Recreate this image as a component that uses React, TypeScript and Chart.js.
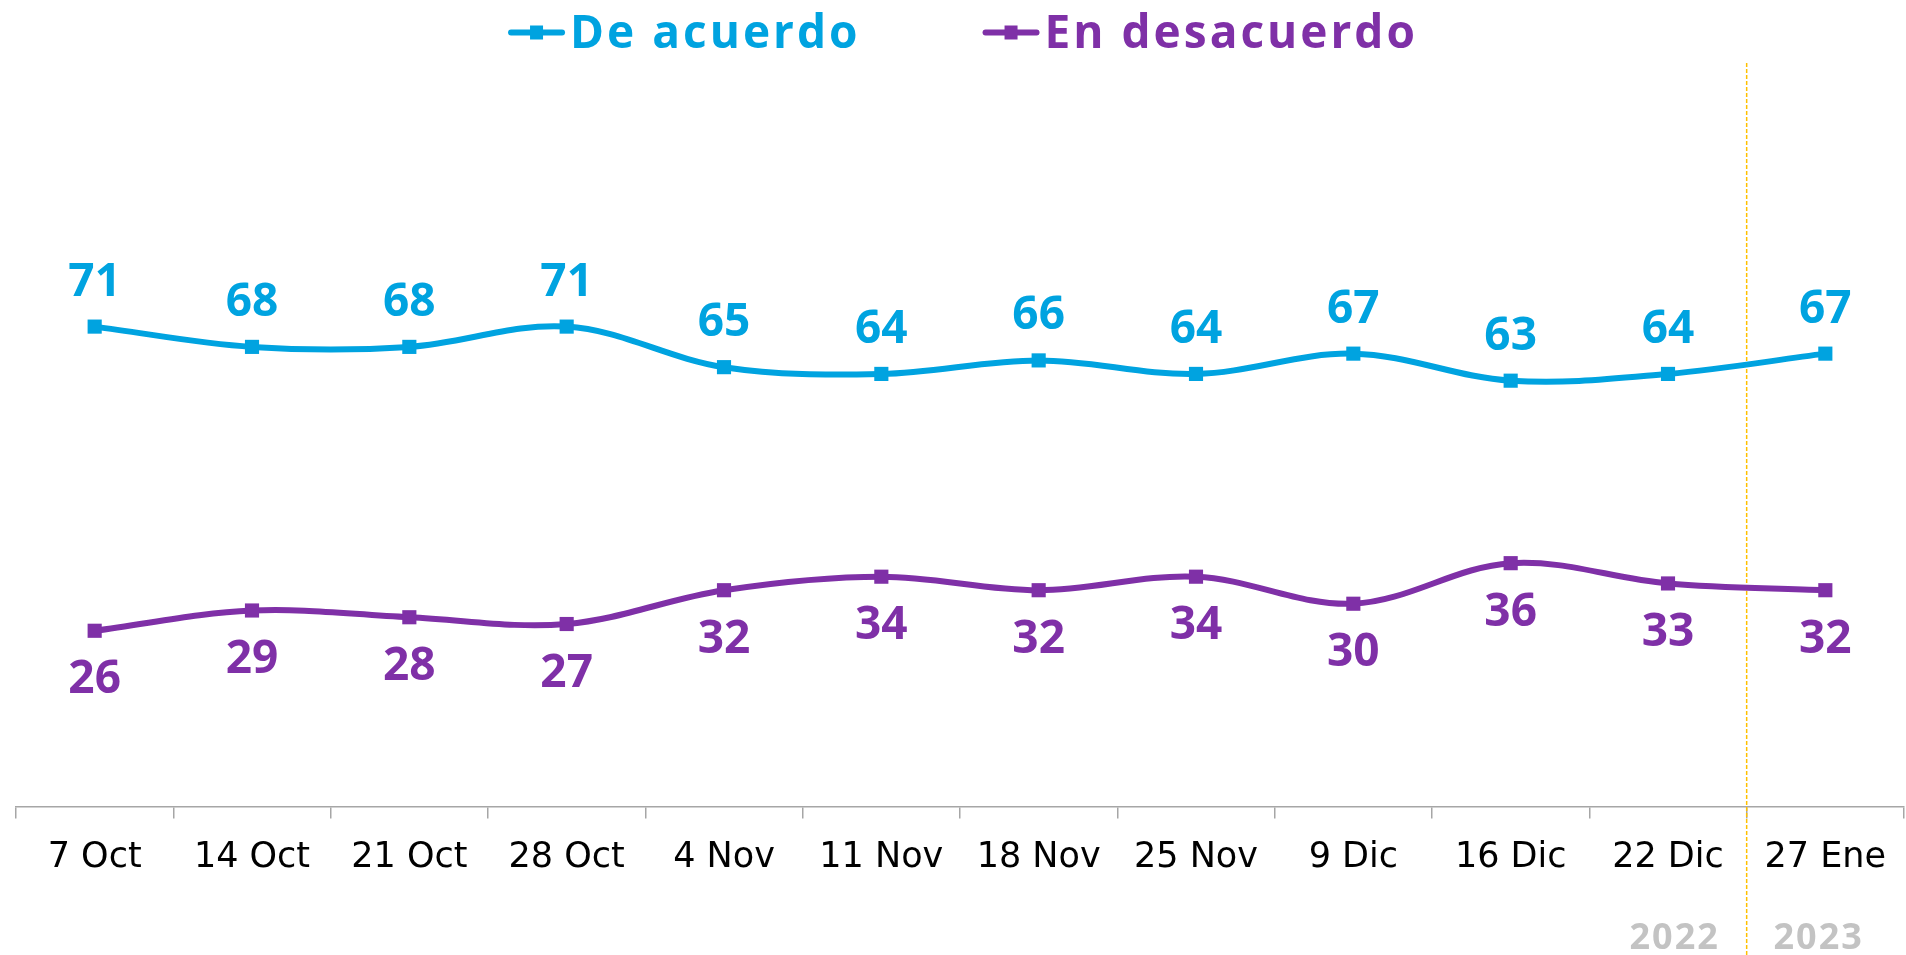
import React, { useEffect, useRef } from "react";
import { Chart, registerables } from "chart.js";

Chart.register(...registerables);

const categories = ["7 Oct", "14 Oct", "21 Oct", "28 Oct", "4 Nov", "11 Nov", "18 Nov", "25 Nov", "9 Dic", "16 Dic", "22 Dic", "27 Ene"];
const deAcuerdo = [71, 68, 68, 71, 65, 64, 66, 64, 67, 63, 64, 67];
const enDesacuerdo = [26, 29, 28, 27, 32, 34, 32, 34, 30, 36, 33, 32];
const seriesNames = ["De acuerdo", "En desacuerdo"];
const yearLabels = ["2022", "2023"];
const yearSplitAfterIndex = 10;

const BLUE = "#00A3E0";
const PURPLE = "#7F30A7";
const BOLD_FONT = "'Open Sans', 'DejaVu Sans', sans-serif";

const valueLabelsPlugin = {
  id: "valueLabels",
  afterDatasetsDraw(chart: any) {
    const ctx = chart.ctx;
    ctx.save();
    ctx.font = `bold 46px ${BOLD_FONT}`;
    ctx.textAlign = "center";
    ctx.textBaseline = "alphabetic";
    chart.data.datasets.forEach((ds: any, di: number) => {
      const meta = chart.getDatasetMeta(di);
      meta.data.forEach((pt: any, i: number) => {
        const above = di === 0;
        const y = above ? pt.y - 31 : pt.y + 62.5;
        ctx.fillStyle = ds.borderColor;
        ctx.fillText(String(ds.data[i]), pt.x, y);
      });
    });
    ctx.restore();
  },
};

const legendPlugin = {
  id: "customLegend",
  afterDraw(chart: any) {
    const ctx = chart.ctx;
    ctx.save();
    ctx.font = `bold 46px ${BOLD_FONT}`;
    (ctx as any).letterSpacing = "3px";
    const symW = 57;
    const gap = 5;
    const itemGap = 122;
    const ds = chart.data.datasets;
    const widths = ds.map((d: any) => ctx.measureText(d.label).width);
    const total = ds.length * (symW + gap) + widths.reduce((a: number, b: number) => a + b, 0) + itemGap * (ds.length - 1);
    const ca = chart.chartArea;
    let x = (ca.left + ca.right) / 2 + 3 - total / 2;
    const cy = 32.5;
    ds.forEach((d: any, i: number) => {
      ctx.strokeStyle = d.borderColor;
      ctx.lineWidth = 6;
      ctx.lineCap = "round";
      ctx.beginPath();
      ctx.moveTo(x + 3, cy);
      ctx.lineTo(x + symW - 3, cy);
      ctx.stroke();
      ctx.fillStyle = d.borderColor;
      ctx.fillRect(x + symW / 2 - 6.5, cy - 7, 13, 14);
      ctx.textBaseline = "alphabetic";
      ctx.textAlign = "left";
      ctx.fillText(d.label, x + symW + gap, 47.7);
      x += symW + gap + widths[i] + itemGap;
    });
    ctx.restore();
  },
};

const dividerPlugin = {
  id: "yearDivider",
  beforeDatasetsDraw(chart: any) {
    const ctx = chart.ctx;
    const xs = chart.scales.x;
    const xd = (xs.getPixelForValue(yearSplitAfterIndex) + xs.getPixelForValue(yearSplitAfterIndex + 1)) / 2;
    ctx.save();
    ctx.strokeStyle = "#FFC000";
    ctx.lineWidth = 1.5;
    ctx.setLineDash([4, 2]);
    ctx.beginPath();
    ctx.moveTo(xd, chart.chartArea.top);
    ctx.lineTo(xd, chart.height);
    ctx.stroke();
    ctx.setLineDash([]);
    ctx.font = `bold 36px ${BOLD_FONT}`;
    (ctx as any).letterSpacing = "2px";
    ctx.fillStyle = "#C3C3C3";
    ctx.textAlign = "center";
    ctx.textBaseline = "alphabetic";
    ctx.fillText(yearLabels[0], xd - 72, 949);
    ctx.fillText(yearLabels[1], xd + 72, 949);
    ctx.restore();
  },
};

export default function App() {
  const canvasRef = useRef<HTMLCanvasElement | null>(null);

  useEffect(() => {
    if (!canvasRef.current) return;
    const makeDs = (label: string, data: number[], color: string) => ({
      label,
      data,
      borderColor: color,
      backgroundColor: color,
      borderWidth: 6,
      tension: 0.35,
      pointStyle: "rect" as const,
      pointRadius: 10,
      pointHoverRadius: 10,
      pointBorderWidth: 0,
      pointBackgroundColor: color,
      fill: false,
      clip: false as any,
    });
    const chart = new Chart(canvasRef.current, {
      type: "line",
      data: {
        labels: categories,
        datasets: [
          makeDs(seriesNames[0], deAcuerdo, BLUE),
          makeDs(seriesNames[1], enDesacuerdo, PURPLE),
        ],
      },
      options: {
        responsive: false,
        animation: false,
        layout: { autoPadding: false, padding: { top: 63, left: 16, right: 2, bottom: 0 } },
        plugins: {
          legend: { display: false },
          tooltip: { enabled: false },
        },
        scales: {
          y: { display: false, min: 0, max: 110 },
          x: {
            offset: true,
            grid: {
              display: true,
              offset: true,
              drawOnChartArea: false,
              drawTicks: true,
              tickLength: 12,
              color: "#A6A6A6",
              lineWidth: 1.5,
            },
            border: { display: true, color: "#A6A6A6", width: 1.5 },
            ticks: {
              color: "#000000",
              font: { family: "'DejaVu Sans', sans-serif", size: 35 },
              padding: 18,
              maxRotation: 0,
              autoSkip: false,
            },
            afterFit: (s: any) => {
              s.height = 148.5;
              s.paddingLeft = 0;
              s.paddingRight = 0;
            },
          },
        },
      },
      plugins: [dividerPlugin, valueLabelsPlugin, legendPlugin],
    });
    return () => chart.destroy();
  }, []);

  return (
    <div style={{ position: "absolute", left: 0, top: 0, width: 1906, height: 955, background: "#fff" }}>
      <canvas ref={canvasRef} width={1906} height={955} style={{ display: "block" }} />
    </div>
  );
}
